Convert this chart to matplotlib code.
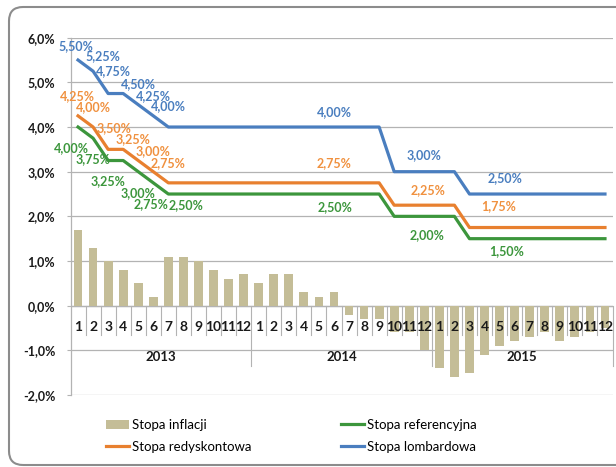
import matplotlib
matplotlib.use("Agg")
import matplotlib.pyplot as plt
from matplotlib.patches import FancyBboxPatch, Patch
from matplotlib.lines import Line2D
from matplotlib.transforms import IdentityTransform
import numpy as np

plt.rcParams['font.family'] = ['Lato', 'DejaVu Sans']

# ---- data ----
months = [str(m) for m in range(1, 13)] * 3
years = ['2013', '2014', '2015']
inflation = [1.7, 1.3, 1.0, 0.8, 0.5, 0.2, 1.1, 1.1, 1.0, 0.8, 0.6, 0.7,
             0.5, 0.7, 0.7, 0.3, 0.2, 0.3, -0.2, -0.3, -0.3, -0.6, -0.6, -1.0,
             -1.4, -1.6, -1.5, -1.1, -0.9, -0.8, -0.7, -0.6, -0.8, -0.7, -0.6, -0.5]
lombard = [5.50, 5.25, 4.75, 4.75, 4.50, 4.25] + [4.00] * 15 + [3.00] * 5 + [2.50] * 10
rediscount = [4.25, 4.00, 3.50, 3.50, 3.25, 3.00] + [2.75] * 15 + [2.25] * 5 + [1.75] * 10
reference = [4.00, 3.75, 3.25, 3.25, 3.00, 2.75] + [2.50] * 15 + [2.00] * 5 + [1.50] * 10
yticks = [-2.0, -1.0, 0.0, 1.0, 2.0, 3.0, 4.0, 5.0, 6.0]

# label placement (index, dx px, dy px)
lab_lomb = [(0, -2, 14), (1, 10, 15), (2, 5, 22), (4, 0, 21), (5, 0, 20), (6, 0, 21),
            (17, 0, 15), (23, 0, 17), (28, 5, 16)]
lab_red = [(0, -1, 20), (1, 0, 20), (2, 6, 21), (4, -5, 21), (5, 0, 21), (6, 0, 20),
           (17, 0, 20), (23, 4, 15), (28, -1, 21)]
lab_ref = [(0, -7, -21), (1, 0, -21), (2, 0, -21), (4, 0, -21), (5, -2, -21), (6, 18, -11),
           (17, 1, -13), (23, 3, -19), (28, 7, -12)]

C_BAR = '#C4BD97'
C_BLUE = '#4A7EBF'
C_ORANGE = '#E8802F'
C_ORANGE_T = '#F0913F'
C_GREEN = '#3C963C'
C_GRID = '#B3B3B3'

W, H = 616, 467
fig = plt.figure(figsize=(W / 100, H / 100), dpi=100)
ax = fig.add_axes([70.5 / W, 1 - 395 / H, (612.5 - 70.5) / W, (395 - 37.7) / H])

x = np.arange(len(inflation))
ax.bar(x, inflation, width=0.58, color=C_BAR, zorder=2)
ax.plot(x, reference, color=C_GREEN, lw=2.3, zorder=3)
ax.plot(x, rediscount, color=C_ORANGE, lw=2.3, zorder=3)
ax.plot(x, lombard, color=C_BLUE, lw=2.3, zorder=3)

ax.set_xlim(-0.5, len(inflation) - 0.5)
ax.set_ylim(-2, 6)
ax.set_yticks(yticks)
ax.set_yticklabels([f"{v:.1f}%".replace('.', ',') for v in yticks],
                   fontsize=9, fontweight='bold', color='#1a1a1a')
ax.tick_params(axis='y', length=3, width=0.8, color=C_GRID, pad=8)
ax.set_xticks([])
ax.yaxis.grid(True, color=C_GRID, lw=0.9, zorder=0)
for s in ['top', 'right', 'bottom']:
    ax.spines[s].set_visible(False)
ax.spines['left'].set_color(C_GRID)
ax.spines['left'].set_linewidth(0.9)
ax.axhline(0, color=C_GRID, lw=0.9, zorder=1)

# category axis
for i, m in enumerate(months):
    ax.annotate(m, (i, 0), xytext=(0, -21), textcoords='offset pixels',
                ha='center', va='center', fontsize=10, fontweight='bold', color='#1a1a1a')
for i in range(len(months) - 1):
    if (i + 1) % 12 == 0:
        continue
    ax.plot([i + 0.5, i + 0.5], [0, -0.66], color=C_GRID, lw=0.8, zorder=1)
for k, yr in enumerate(years):
    ax.plot([12 * k + 11.5] * 2, [0, -1.36], color=C_GRID, lw=0.8, zorder=1, clip_on=False)
    ax.text(12 * k + 5.5, -1.14, yr, ha='center', va='center', fontsize=9.5,
            fontweight='bold', color='#1a1a1a')

def labels(series, spec, color):
    for i, dx, dy in spec:
        ax.annotate(f"{series[i]:.2f}%".replace('.', ','), (i, series[i]),
                    xytext=(dx, dy), textcoords='offset pixels', ha='center', va='center',
                    fontsize=9, fontweight='bold', color=color, zorder=4)

labels(lombard, lab_lomb, C_BLUE)
labels(rediscount, lab_red, C_ORANGE_T)
labels(reference, lab_ref, C_GREEN)

handles = [Patch(facecolor=C_BAR, edgecolor='none'),
           Line2D([], [], color=C_ORANGE, lw=2.3),
           Line2D([], [], color=C_GREEN, lw=2.3),
           Line2D([], [], color=C_BLUE, lw=2.3)]
names = ['Stopa inflacji', 'Stopa redyskontowa', 'Stopa referencyjna', 'Stopa lombardowa']
fig.legend(handles, names, ncol=2, loc='upper left',
           bbox_to_anchor=(106 / W, 1 - 419 / H), frameon=False, fontsize=9.5,
           handlelength=1.75, handletextpad=0.2, columnspacing=6.8, labelspacing=0.75,
           borderpad=0, borderaxespad=0)

frame = FancyBboxPatch((9, 2), 700, 458, boxstyle="round,pad=0,rounding_size=14",
                       transform=IdentityTransform(), fill=False,
                       edgecolor='#8C8C8C', lw=1.5)
fig.add_artist(frame)

fig.savefig('out.png', dpi=100)
